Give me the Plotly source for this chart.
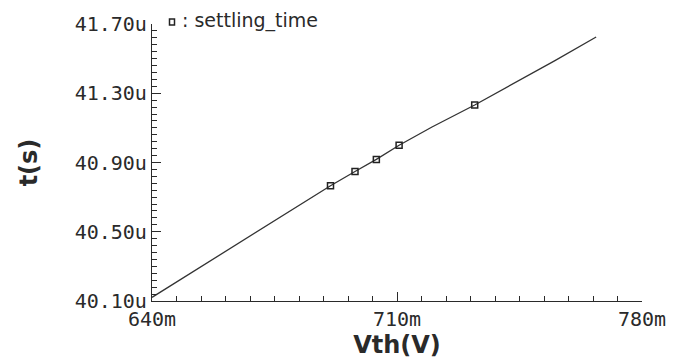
import plotly.graph_objects as go

# Curve: Vth (mV) vs settling time (us)
vth_line = [640, 655, 670, 680, 691, 698, 704.1, 710.6, 720, 732.2, 745, 755, 766.9]
t_line = [40.121, 40.310, 40.500, 40.630, 40.766, 40.848, 40.918, 41.000, 41.105, 41.232, 41.375, 41.487, 41.625]

# Marked points
vth_pts = [691, 698, 704.1, 710.6, 732.2]
t_pts = [40.766, 40.848, 40.918, 41.000, 41.232]

legend_label = ": settling_time"

ink = "#2a2a2a"
tick_font = dict(family="DejaVu Sans Mono", size=20, color=ink)

fig = go.Figure()
fig.add_trace(go.Scatter(
    x=vth_line, y=t_line, mode="lines",
    line=dict(color="#333333", width=1.3),
    showlegend=False, hoverinfo="skip",
))
fig.add_trace(go.Scatter(
    x=vth_pts, y=t_pts, mode="markers",
    marker=dict(symbol="square-open", size=6, color="#222222", line=dict(width=1.5, color="#222222")),
    name=legend_label, showlegend=False,
))

# legend drawn manually (square + text) so it does not push the margins
W, H = 686, 362
L, R, T, B = 152, 44, 21, 60
pw, ph = W - L - R, H - T - B
def px2paper_x(p): return (p - L) / pw
def px2paper_y(p): return (H - B - p) / ph

fig.add_shape(type="rect", xref="paper", yref="paper",
              x0=px2paper_x(169.5), x1=px2paper_x(174.5),
              y0=px2paper_y(22), y1=px2paper_y(16),
              line=dict(color="#222222", width=1.5), fillcolor="rgba(0,0,0,0)")
fig.add_annotation(xref="paper", yref="paper", x=px2paper_x(180), y=px2paper_y(17),
                   xanchor="left", yanchor="middle", showarrow=False,
                   text=legend_label,
                   font=dict(family="DejaVu Sans", size=19, color=ink))

fig.update_layout(
    width=W, height=H,
    margin=dict(l=L, r=R, t=T, b=B),
    paper_bgcolor="white", plot_bgcolor="white",
    showlegend=False,
)

fig.update_xaxes(
    range=[640, 780],
    tickmode="linear", tick0=640, dtick=70, ticksuffix="m",
    ticks="inside", ticklen=9, tickwidth=1, tickcolor=ink,
    minor=dict(dtick=7, tick0=640, ticks="inside", ticklen=5, tickwidth=1, tickcolor=ink, showgrid=False),
    showline=True, linecolor=ink, linewidth=1.2,
    showgrid=False, zeroline=False,
    tickfont=tick_font,
    title=dict(text="<b>Vth(V)</b>", font=dict(family="DejaVu Sans", size=24, color=ink), standoff=2),
)
fig.update_yaxes(
    range=[40.10, 41.70],
    tickmode="linear", tick0=40.10, dtick=0.4, tickformat=".2f", ticksuffix="u",
    ticks="inside", ticklen=9, tickwidth=1, tickcolor=ink,
    minor=dict(dtick=0.04, tick0=40.10, ticks="inside", ticklen=5, tickwidth=1, tickcolor=ink, showgrid=False),
    showline=True, linecolor=ink, linewidth=1.2,
    showgrid=False, zeroline=False,
    tickfont=tick_font,
    title=dict(text="<b>t(s)</b>", font=dict(family="DejaVu Sans", size=24, color=ink), standoff=30),
)

fig.write_html("out.html")
